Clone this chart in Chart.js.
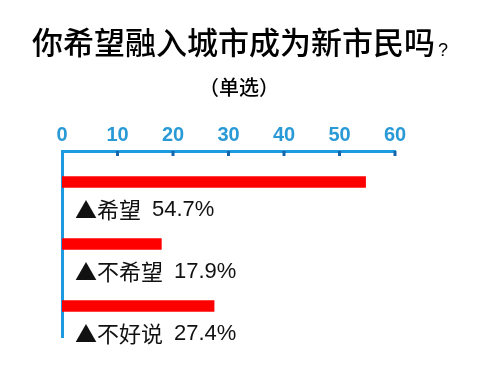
<!DOCTYPE html>
<html>
<head>
<meta charset="utf-8">
<script src="https://cdn.jsdelivr.net/npm/chart.js@4"></script>
<style>
  body { margin: 0; background: #fff; }
  #wrap { width: 500px; height: 369px; }
</style>
</head>
<body>
<div id="wrap"><canvas id="myChart" width="500" height="369"></canvas></div>
<script>
// data
const categories = ['希望', '不希望', '不好说'];
const shares = [54.7, 17.9, 27.4];
const xMin = 0;
const xMax = 60;
const xStep = 10;

const titleText = '你希望融入城市成为新市民吗';
const subtitleText = '（单选）';

const latin = '"Liberation Sans", "Noto Sans CJK SC", sans-serif';
const cjk = '"Noto Sans CJK SC", sans-serif';

// title + subtitle drawn on the canvas
const titlePlugin = {
  id: 'titleText',
  afterDraw(chart) {
    const c = chart.ctx;
    c.save();
    c.fillStyle = '#000';
    c.textBaseline = 'alphabetic';
    c.textAlign = 'left';
    c.font = '500 31px ' + cjk;
    c.fillText(titleText, 32, 54);
    const w = c.measureText(titleText).width;
    c.font = '18px ' + latin;
    c.fillText('?', 32 + w + 3, 56);
    c.font = '500 20px ' + cjk;
    c.textAlign = 'center';
    c.textBaseline = 'middle';
    c.fillText(subtitleText, 239, 87);
    c.restore();
  }
};

// little tick marks hanging under the top axis line
const tickMarks = {
  id: 'tickMarks',
  afterDraw(chart) {
    const c = chart.ctx;
    const x = chart.scales.x;
    const top = chart.chartArea.top;
    c.save();
    c.strokeStyle = '#1565a8';
    c.lineWidth = 3;
    for (let v = xMin + xStep; v <= xMax; v += xStep) {
      const px = x.getPixelForValue(v);
      c.beginPath();
      c.moveTo(px, top);
      c.lineTo(px, top + 5);
      c.stroke();
    }
    c.restore();
  }
};

// "▲希望  54.7%" under each bar
const barLabels = {
  id: 'barLabels',
  afterDatasetsDraw(chart) {
    const c = chart.ctx;
    const meta = chart.getDatasetMeta(0);
    c.save();
    c.fillStyle = '#111';
    c.textAlign = 'left';
    c.textBaseline = 'middle';
    meta.data.forEach((bar, i) => {
      const y = bar.y + 28;
      c.font = '22px ' + cjk;
      const head = '▲' + categories[i];
      c.fillText(head, 75, y);
      const w = c.measureText(head).width;
      c.font = '22px ' + latin;
      c.fillText(shares[i].toFixed(1) + '%', 75 + w + 11, y);
    });
    c.restore();
  }
};

const ctx = document.getElementById('myChart').getContext('2d');
let myChart = new Chart(ctx, {
  type: 'bar',
  data: {
    labels: categories,
    datasets: [{
      data: shares,
      backgroundColor: '#ff0000',
      barThickness: 11,
      borderWidth: 0
    }]
  },
  options: {
    indexAxis: 'y',
    responsive: false,
    animation: false,
    layout: { padding: { top: 111, right: 105, bottom: 32, left: 0 } },
    plugins: {
      legend: { display: false },
      tooltip: { enabled: false }
    },
    scales: {
      x: {
        position: 'top',
        min: xMin,
        max: xMax,
        ticks: {
          stepSize: xStep,
          color: '#2a9ad6',
          font: { family: 'Liberation Sans', size: 20, weight: 'bold' },
          padding: 4
        },
        grid: { display: false, drawTicks: false },
        border: { display: true, color: '#1e9be0', width: 3 },
        afterFit(scale) { scale.height = 40; }
      },
      y: {
        ticks: { display: false },
        grid: { display: false, drawTicks: false },
        border: { display: true, color: '#1e9be0', width: 3 },
        afterFit(scale) { scale.width = 62; }
      }
    }
  },
  plugins: [titlePlugin, tickMarks, barLabels]
});
</script>
</body>
</html>
